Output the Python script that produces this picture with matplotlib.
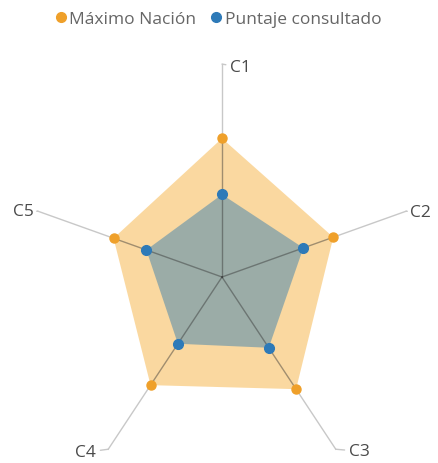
import numpy as np
import matplotlib.pyplot as plt
from matplotlib.lines import Line2D

# Data (arbitrary scale, no tick labels shown)
categories = ["C1", "C2", "C3", "C4", "C5"]
maximo_nacion = [84, 78, 84, 81, 76]
puntaje_consultado = [50, 57, 53, 50, 53]

orange = "#EFA02A"
orange_fill = "#F5A623"
blue = "#2E7AB8"
blue_fill = "#2878B0"
text_gray = "#4a4a4a"

plt.rcParams['font.family'] = ['Open Sans', 'DejaVu Sans']

fig = plt.figure(figsize=(4.38, 4.64), dpi=100)

# polar axes, slightly stretched vertically like the original
rmax = 133.3
ax = fig.add_axes([22 / 438, -34 / 464, 400 / 438, 440 / 464], projection='polar')
ax.set_theta_zero_location('N')
ax.set_theta_direction(-1)
ax.set_rlim(0, rmax)
ax.set_aspect('auto')
ax.axis('off')

theta = np.arange(len(categories)) * 2 * np.pi / len(categories)
t_closed = np.append(theta, theta[0])
o_closed = np.append(maximo_nacion, maximo_nacion[0])
b_closed = np.append(puntaje_consultado, puntaje_consultado[0])

ax.fill(t_closed, o_closed, color=orange_fill, alpha=0.43, lw=0, zorder=1)
ax.fill(t_closed, b_closed, color=blue_fill, alpha=0.45, lw=0, zorder=2)

r_lead = 129
# label offsets in pixels (dx, dy) and alignment
label_off = [(8, -3, 'left'), (4, -1, 'left'), (13, -2, 'left'), (-12, -3, 'right'), (-4, 0, 'right')]

for i, t in enumerate(theta):
    ax.plot([t, t], [0, maximo_nacion[i]], color='#333333', alpha=0.45, lw=1, zorder=3)
    ax.plot([t, t], [maximo_nacion[i], r_lead], color='#c8c8c8', lw=1, zorder=3)
    dx, dy, ha = label_off[i]
    ax.annotate(categories[i], xy=(t, r_lead), xytext=(dx * 0.72, dy * 0.72),
                textcoords='offset points', ha=ha, va='center', fontsize=12.5,
                color=text_gray, annotation_clip=False,
                arrowprops=dict(arrowstyle='-', color='#c8c8c8', lw=1,
                                shrinkA=1, shrinkB=0))

ax.plot(theta, maximo_nacion, 'o', color=orange, ms=6.5, zorder=4)
ax.plot(theta, puntaje_consultado, 'o', color=blue, ms=7, zorder=5)

handles = [Line2D([], [], marker='o', ls='', color=orange, ms=7),
           Line2D([], [], marker='o', ls='', color=blue, ms=7)]
fig.legend(handles, ["Máximo Nación", "Puntaje consultado"], loc='center',
           bbox_to_anchor=(0.5, 1 - 20 / 464), ncol=2, frameon=False,
           handlelength=0.5, handletextpad=0.25, columnspacing=0.9,
           fontsize=12.5, labelcolor='#666666')

plt.savefig("out.png", dpi=100)
plt.close(fig)
